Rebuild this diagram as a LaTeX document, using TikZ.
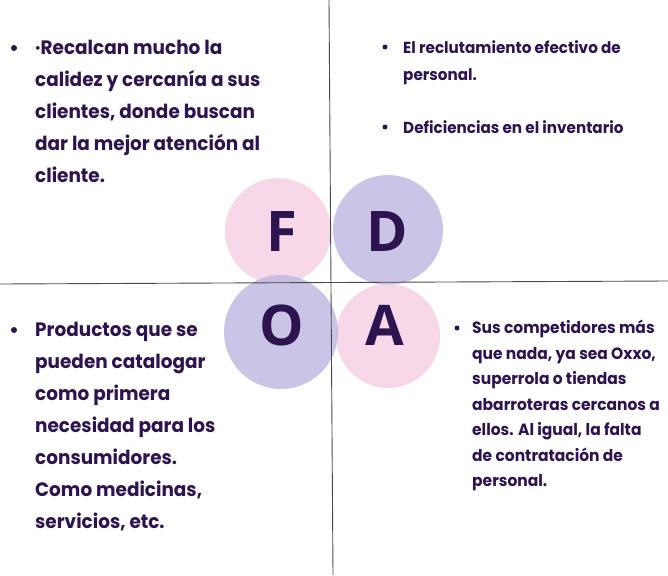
\documentclass[tikz,border=0pt]{standalone}
\usepackage{fontspec}
\newfontfamily\tfont{Poppins}[FakeStretch=0.95]
\newfontfamily\lfont{Open Sans}
\definecolor{ink}{HTML}{2D1450}
\definecolor{pinkc}{HTML}{F3CCE1}
\definecolor{lavc}{HTML}{BDB7E0}
\definecolor{rule}{HTML}{4A4A4A}
\begin{document}
\begin{tikzpicture}[x=1pt,y=-1pt,
  bigtext/.style={anchor=north west,inner sep=0pt,align=left,text=ink,font=\tfont\bfseries\fontsize{19.4}{32}\selectfont},
  smalltext/.style={anchor=north west,inner sep=0pt,align=left,text=ink,font=\tfont\bfseries\fontsize{16}{27}\selectfont},
  atext/.style={anchor=north west,inner sep=0pt,align=left,text=ink,font=\tfont\bfseries\fontsize{16.3}{25.5}\selectfont},
  dotb/.style={circle,fill=ink,inner sep=0pt,minimum size=6pt},
  letter/.style={text=ink,font=\lfont\bfseries\fontsize{56}{56}\selectfont,inner sep=0pt},
  pinkball/.style={circle,fill=pinkc,fill opacity=0.75,inner sep=0pt},
  lavball/.style={circle,fill=lavc,fill opacity=0.8,inner sep=0pt},
  axis/.style={draw=rule,line width=0.9pt}]
\useasboundingbox (0,0) rectangle (668,575);
\fill[white] (0,0) rectangle (668,575);
% circles
\node[pinkball,minimum size=106pt] (cF) at (278,231) {};
\node[lavball,minimum size=110pt] (cD) at (388,230) {};
\node[pinkball,minimum size=104pt] (cA) at (388,336) {};
\node[lavball,minimum size=114pt] (cO) at (281,332) {};
% axes
\coordinate (vt) at (329,0);
\coordinate (vb) at (333,575);
\coordinate (hl) at (0,284);
\coordinate (hr) at (668,281);
\draw[axis] (vt) -- (vb);
\draw[axis] (hl) -- (hr);
% letters
\node[letter] (F) at (282,232) {F};
\node[letter] (D) at (387,232) {D};
\node[letter] (O) at (282,325) {O};
\node[letter] (A) at (385,325) {A};
% bullets
\node[dotb] (b1) at (14,48) {};
\node[dotb,minimum size=5pt] (b2) at (385,47) {};
\node[dotb,minimum size=5pt] (b3) at (385,127) {};
\node[dotb] (b4) at (14,330) {};
\node[dotb,minimum size=5pt] (b5) at (457,328) {};
% texts
\node[bigtext] (tF) at (35,40) {·Recalcan mucho la\\calidez y cercanía a sus\\clientes, donde buscan\\dar la mejor atención al\\cliente.};
\node[smalltext] (tD1) at (403,40) {El reclutamiento efectivo de\\personal.};
\node[smalltext] (tD2) at (403,120) {Deficiencias en el inventario};
\node[bigtext] (tO) at (35,322) {Productos que se\\pueden catalogar\\como primera\\necesidad para los\\consumidores.\\Como medicinas,\\servicios, etc.};
\node[atext] (tA) at (472,320) {Sus competidores más\\que nada, ya sea Oxxo,\\superrola o tiendas\\abarroteras cercanos a\\ellos. Al igual, la falta\\de contratación de\\personal.};
\end{tikzpicture}
\end{document}
